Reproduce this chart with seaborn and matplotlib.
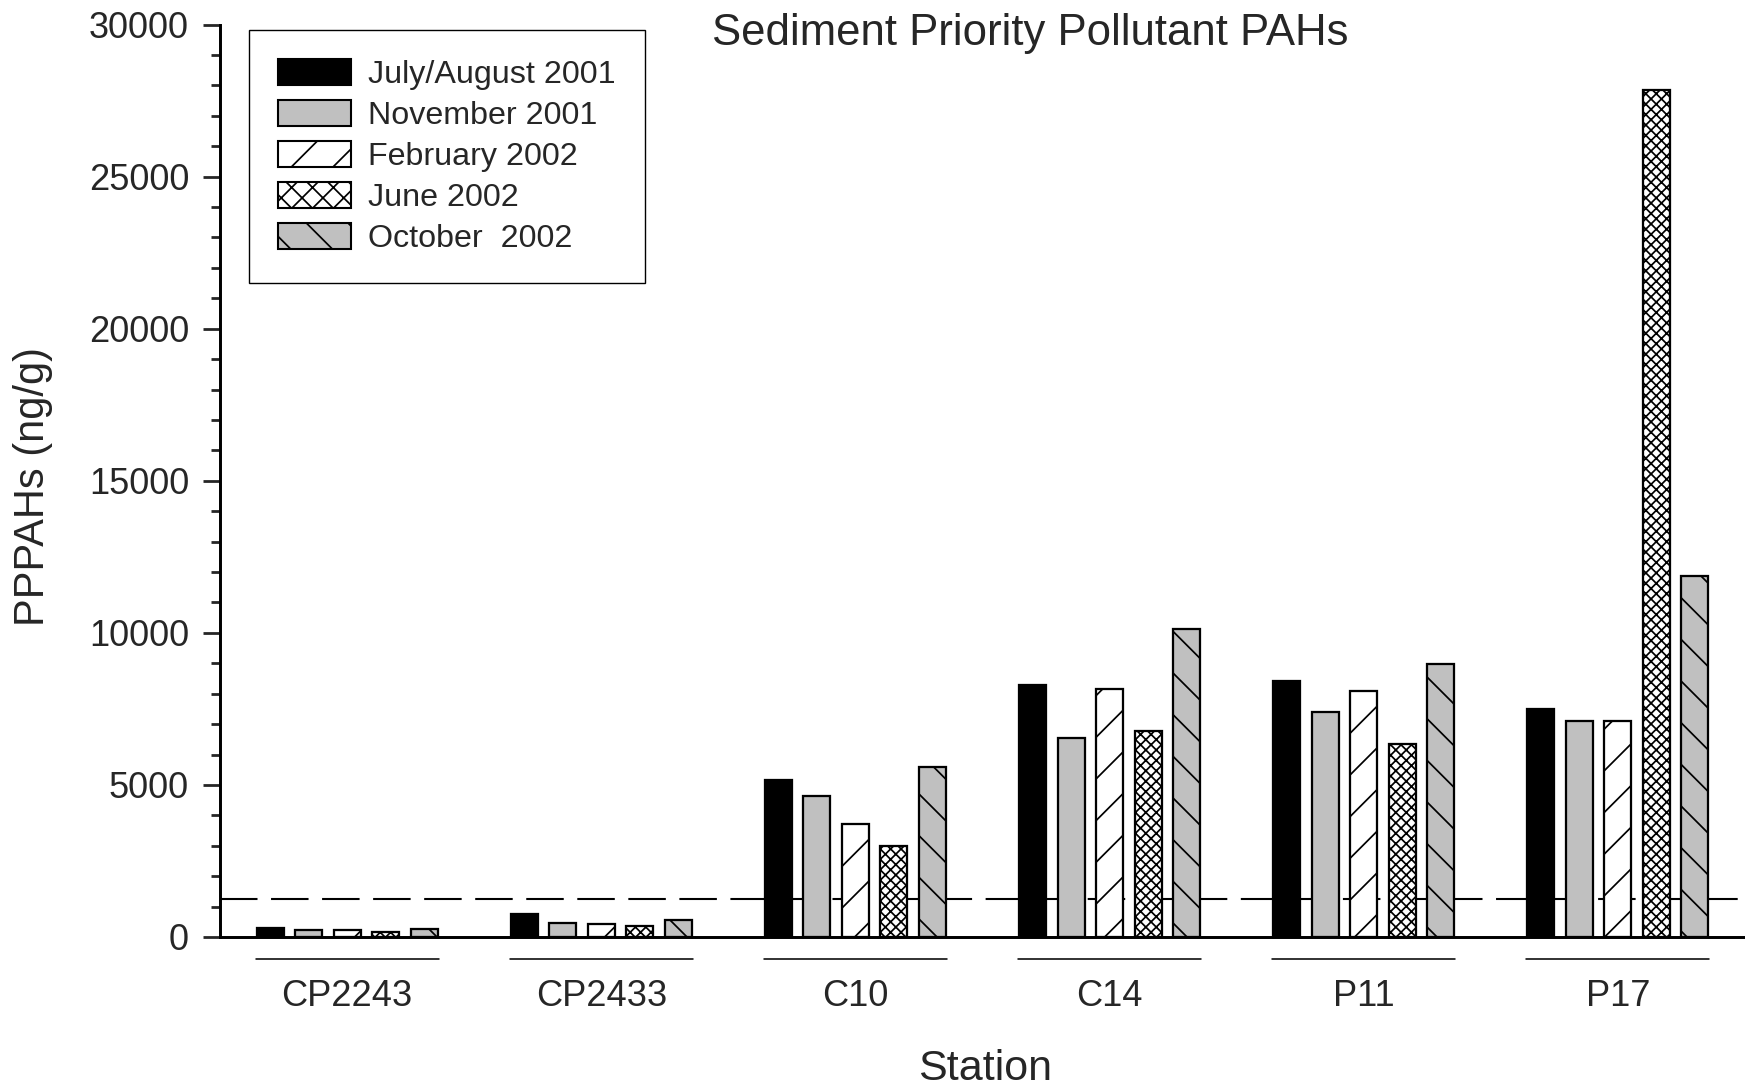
import numpy as np
import pandas as pd
import matplotlib
matplotlib.use("Agg")
import matplotlib.pyplot as plt
import matplotlib.transforms as mtransforms
from matplotlib.patches import Patch
from matplotlib.ticker import MultipleLocator
import seaborn as sns

# ---------------- data ----------------
stations = ["CP2243", "CP2433", "C10", "C14", "P11", "P17"]
periods = ["July/August 2001", "November 2001", "February 2002", "June 2002", "October  2002"]
jul_aug_2001 = [290, 770, 5160, 8270, 8415, 7500]
nov_2001 = [220, 475, 4650, 6550, 7390, 7100]
feb_2002 = [220, 440, 3730, 8160, 8090, 7100]
jun_2002 = [180, 365, 3000, 6770, 6330, 27845]
oct_2002 = [255, 550, 5600, 10135, 8965, 11855]
threshold = 1250
y_ticks = [0, 5000, 10000, 15000, 20000, 25000, 30000]

series = [jul_aug_2001, nov_2001, feb_2002, jun_2002, oct_2002]
df = pd.DataFrame(
    [(s, p, v) for p, vals in zip(periods, series) for s, v in zip(stations, vals)],
    columns=["Station", "Period", "PPPAHs"],
)

colors = ["#000000", "#c0c0c0", "#ffffff", "#ffffff", "#c0c0c0"]
bar_hatches = ["", "", "//", "xxxxxxxx", "\\\\"]
legend_hatches = ["", "", "//", "xxxx", "\\\\"]

# ---------------- style ----------------
sns.set_theme(style="ticks")
plt.rcParams["font.family"] = ["Liberation Sans", "DejaVu Sans"]
plt.rcParams["hatch.linewidth"] = 0.5

DPI = 250
W, H = 1745, 1089
fig = plt.figure(figsize=(W / DPI, H / DPI), dpi=DPI)
ax = fig.add_axes([220 / W, 1 - 937 / H, 1 - 220 / W, (937 - 24.5) / H])

ax.axhline(threshold, color="black", lw=0.6, ls=(0, (18, 6.5)), zorder=0.5)

sns.barplot(
    data=df, x="Station", y="PPPAHs", hue="Period",
    order=stations, hue_order=periods, palette=colors,
    width=0.757, gap=0.3, edgecolor="black", linewidth=0.65,
    legend=False, ax=ax, zorder=2,
)
for cont, h in zip(ax.containers, bar_hatches):
    for bar in cont:
        bar.set_hatch(h)
        bar.set_edgecolor("black")

ax.set_xlim(-0.5, 5.5)
ax.set_ylim(0, 30000)
ax.set_yticks(y_ticks)
ax.set_yticklabels([str(t) for t in y_ticks])
ax.yaxis.set_minor_locator(MultipleLocator(1000))
ax.tick_params(axis="y", which="major", length=4.9, width=0.8, labelsize=10.4, pad=4, direction="out")
ax.tick_params(axis="y", which="minor", length=2.6, width=0.8, direction="out")
ax.tick_params(axis="x", length=0, labelsize=10.45, pad=12.2)
ax.set_xlabel("")
ax.set_ylabel("")
for side in ["top", "right"]:
    ax.spines[side].set_visible(False)
for side in ["left", "bottom"]:
    ax.spines[side].set_linewidth(0.85)
    ax.spines[side].set_color("black")

# group underlines below the axis
trans = mtransforms.blended_transform_factory(ax.transData, ax.transAxes)
ybar = -22 / (937 - 24.5)
for i in range(len(stations)):
    ax.plot([i - 0.36, i + 0.36], [ybar, ybar], color="black", lw=0.45,
            transform=trans, clip_on=False)

# legend
handles = [Patch(facecolor=c, edgecolor="black", hatch=h, linewidth=0.6)
           for c, h in zip(colors, legend_hatches)]
leg = ax.legend(handles, periods, loc="upper left",
                bbox_to_anchor=(249 / W, 1 - 30 / H), bbox_transform=fig.transFigure,
                borderaxespad=0, fontsize=9.3, handlelength=2.25, handleheight=0.85,
                handletextpad=0.55, labelspacing=0.31, borderpad=0.9,
                frameon=True, fancybox=False, framealpha=1)
leg.get_frame().set_edgecolor("black")
leg.get_frame().set_linewidth(0.4)

# texts
fig.text(1030 / W, 1 - 44.5 / H, "Sediment Priority Pollutant PAHs",
         ha="center", va="baseline", fontsize=12.6)
fig.text(33 / W, 1 - 486 / H, "PPPAHs (ng/g)", rotation=90,
         ha="center", va="center", fontsize=12)
fig.text(985 / W, 1 - 1080 / H, "Station", ha="center", va="baseline", fontsize=12.4)

fig.savefig("out.png", dpi=DPI)
